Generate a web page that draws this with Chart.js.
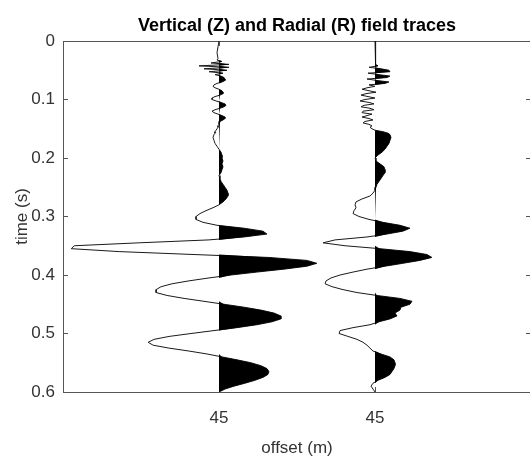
<!DOCTYPE html>
<html>
<head>
<meta charset="utf-8">
<title>Vertical (Z) and Radial (R) field traces</title>
<script src="https://cdn.jsdelivr.net/npm/chart.js@4.4.1/dist/chart.umd.min.js"></script>
<style>
  html, body { margin: 0; padding: 0; background: #fff; overflow: hidden; }
  #wrap { width: 533px; height: 459px; }
</style>
</head>
<body>
<div id="wrap"><canvas id="traces" width="533" height="459"></canvas></div>
<script>
// ---- data ----
// sample times (s): coarse at the start, fine through the early wiggles, then 5 ms
const timeS = [
  0, 0.01, 0.02,
  0.03, 0.0325, 0.035, 0.0375, 0.04, 0.0425, 0.045, 0.0475, 0.05, 0.0525,
  0.055, 0.0575, 0.06, 0.0625, 0.065, 0.0675, 0.07, 0.0725, 0.075, 0.0775,
  0.08, 0.0825, 0.085, 0.0875, 0.09, 0.0925, 0.095, 0.0975, 0.1, 0.1025,
  0.105, 0.1075, 0.11, 0.1125, 0.115, 0.1175, 0.12, 0.1225, 0.125, 0.1275,
  0.13, 0.1325, 0.135, 0.1375, 0.14, 0.1425, 0.145, 0.1475, 0.15, 0.1525,
  0.155, 0.1575, 0.16,
  0.165, 0.17, 0.175, 0.18, 0.185, 0.19, 0.195, 0.2, 0.205, 0.21,
  0.215, 0.22, 0.225, 0.23, 0.235, 0.24, 0.245, 0.25, 0.255, 0.26,
  0.265, 0.27, 0.275, 0.28, 0.285, 0.29, 0.295, 0.3, 0.305, 0.31,
  0.315, 0.32, 0.325, 0.33, 0.335, 0.34, 0.345, 0.35, 0.355, 0.36,
  0.365, 0.37, 0.375, 0.38, 0.385, 0.39, 0.395, 0.4, 0.405, 0.41,
  0.415, 0.42, 0.425, 0.43, 0.435, 0.44, 0.445, 0.45, 0.455, 0.46,
  0.465, 0.47, 0.475, 0.48, 0.485, 0.49, 0.495, 0.5, 0.505, 0.51,
  0.515, 0.52, 0.525, 0.53, 0.535, 0.54, 0.545, 0.55, 0.555, 0.56,
  0.565, 0.57, 0.575, 0.58, 0.585, 0.59, 0.595, 0.6
];

// vertical component (Z), arbitrary amplitude units
const ampZ = [
  0, -1, -2,
  -1, -2, 3, -8, 10, -20, 10, -15, 8, -10,
  4, -4, 2, 5, 6, 6, 3, -2, -5, -6,
  -4, 0, 3, 4, 4, 1, -4, -7, -7, -3,
  2, 6, 7, 5, 1, -4, -7, -5, -1, 3,
  6, 6, 4, 1, 0, 0, -1, -1, -2, -3,
  -4, -4, -5,
  -6, -5, -4, -2, 0, 2, 3, 3, 4, 3,
  4, 3, 2, 0, 1, 2, 4, 6, 8, 9,
  9, 7, 4, 0, -6, -13, -19, -23, -23, -16,
  -2, 25, 44, 48, 25, -10, -80, -145, -148, -100,
  -25, 50, 88, 98, 88, 65, 38, 12, -10, -30,
  -47, -58, -63, -63, -52, -35, -15, 5, 25, 42,
  55, 62, 62, 53, 38, 18, -5, -28, -50, -65,
  -71, -66, -50, -30, -12, 3, 18, 32, 42, 48,
  50, 49, 44, 36, 26, 15, 6, 0
];

// radial component (R), arbitrary amplitude units
const ampR = [
  0, 0, 1,
  1, 1, 1, 0, 0, 3, -6, 6, 14, 15,
  -7, 4, 15, 12, -8, 2, 14, 10, -6, 0,
  -8, -13, -6, 1, -9, -14, -7, 0, -10, -15,
  -6, -1, -11, -14, -5, -1, -12, -13, -3, -8,
  -13, -6, -2, -10, -12, -6, -3, -5, -3, 0,
  8, 13, 15,
  16, 15, 14, 12, 10, 7, 3, 0, 1, 5,
  9, 10, 10, 8, 6, 4, 2, 1, 0, -2,
  -5, -13, -19, -20, -19, -21, -22, -16, -6, 8,
  25, 35, 28, 12, -8, -40, -52, -30, 5, 35,
  52, 57, 45, 28, 10, -8, -22, -35, -44, -49,
  -50, -43, -32, -18, 2, 25, 37, 35, 26, 25,
  20, 22, 15, 4, -5, -22, -35, -36, -27, -18,
  -12, -8, -5, -2, 6, 15, 19, 20, 20, 19,
  17, 15, 10, 3, -2, -4, -2, 0
];

const traceNames = ["Z", "R"];
const traceOffsets = [1, 2];          // trace positions on the offset axis
const xTickLabels = ["45", "45"];     // both traces recorded at 45 m
const yTickValues = [0, 0.1, 0.2, 0.3, 0.4, 0.5, 0.6];
const yTickLabels = ["0", "0.1", "0.2", "0.3", "0.4", "0.5", "0.6"];
const AMP_SCALE = 0.0064;             // wiggle gain (amplitude -> offset units)

// ---- styling ----
const FONT = "'Liberation Sans', Arial, Helvetica, sans-serif";
const AXIS_COLOR = "#555";
const TEXT_COLOR = "#333";

// each trace = black lobes on the positive side + the wiggle line itself
function traceDatasets(amp, off, name) {
  const wiggle = timeS.map((t, i) => ({ x: off + amp[i] * AMP_SCALE, y: t }));
  const lobes = timeS.map((t, i) => ({ x: off + Math.max(amp[i], 0) * AMP_SCALE, y: t }));
  return [
    {
      label: name + " fill",
      data: lobes,
      fill: { value: off },
      backgroundColor: "#000",
      borderColor: "rgba(0,0,0,0)",
      borderWidth: 0,
      pointRadius: 0
    },
    {
      label: name,
      data: wiggle,
      fill: false,
      borderColor: "#1a1a1a",
      borderWidth: 1,
      pointRadius: 0
    }
  ];
}

const datasets = [];
[ampZ, ampR].forEach((amp, k) => {
  datasets.push(...traceDatasets(amp, traceOffsets[k], traceNames[k]));
});

const frameGrid = {
  display: true,
  drawOnChartArea: false,
  drawTicks: true,
  tickLength: -5,
  color: AXIS_COLOR,
  lineWidth: 1
};
const frameBorder = { display: true, color: AXIS_COLOR, width: 1 };
const offsetTicks = scale => { scale.ticks = traceOffsets.map(v => ({ value: v })); };
const timeTicks = scale => { scale.ticks = yTickValues.map(v => ({ value: v })); };

new Chart(document.getElementById("traces"), {
  type: "line",
  data: { datasets },
  options: {
    responsive: false,
    devicePixelRatio: 1,
    animation: false,
    indexAxis: "y",
    layout: { padding: { left: 0, right: 2, top: 0, bottom: 0 } },
    plugins: {
      legend: { display: false },
      tooltip: { enabled: false },
      title: {
        display: true,
        fullSize: false,
        text: "Vertical (Z) and Radial (R) field traces",
        color: "#000",
        font: { family: FONT, size: 18, weight: "bold" },
        padding: { top: 15, bottom: 4.4 }
      }
    },
    scales: {
      x: {
        type: "linear",
        position: "bottom",
        min: 0,
        max: 3,
        afterBuildTicks: offsetTicks,
        afterFit: s => { s.height = 67; },
        grid: frameGrid,
        border: frameBorder,
        ticks: {
          color: TEXT_COLOR,
          font: { family: FONT, size: 17 },
          padding: 21,
          autoSkip: false,
          maxRotation: 0,
          callback: (v, i) => xTickLabels[i]
        },
        title: {
          display: true,
          text: "offset (m)",
          color: TEXT_COLOR,
          font: { family: FONT, size: 17 },
          padding: { top: 0, bottom: 0 }
        }
      },
      x2: {
        type: "linear",
        axis: "x",
        position: "top",
        min: 0,
        max: 3,
        afterBuildTicks: offsetTicks,
        afterFit: s => { s.height = 0; },
        grid: frameGrid,
        border: frameBorder,
        ticks: { display: false }
      },
      y: {
        type: "linear",
        position: "left",
        reverse: true,
        min: 0,
        max: 0.6,
        afterBuildTicks: timeTicks,
        afterFit: s => { s.width = 63; },
        grid: frameGrid,
        border: frameBorder,
        ticks: {
          color: TEXT_COLOR,
          font: { family: FONT, size: 17 },
          padding: 13,
          callback: v => yTickLabels[yTickValues.indexOf(v)]
        },
        title: {
          display: true,
          text: "time (s)",
          color: TEXT_COLOR,
          font: { family: FONT, size: 17 },
          padding: { top: 12, bottom: 0 }
        }
      },
      y2: {
        type: "linear",
        axis: "y",
        position: "right",
        reverse: true,
        min: 0,
        max: 0.6,
        afterBuildTicks: timeTicks,
        afterFit: s => { s.width = 0; },
        grid: frameGrid,
        border: frameBorder,
        ticks: { display: false }
      }
    }
  }
});
</script>
</body>
</html>
